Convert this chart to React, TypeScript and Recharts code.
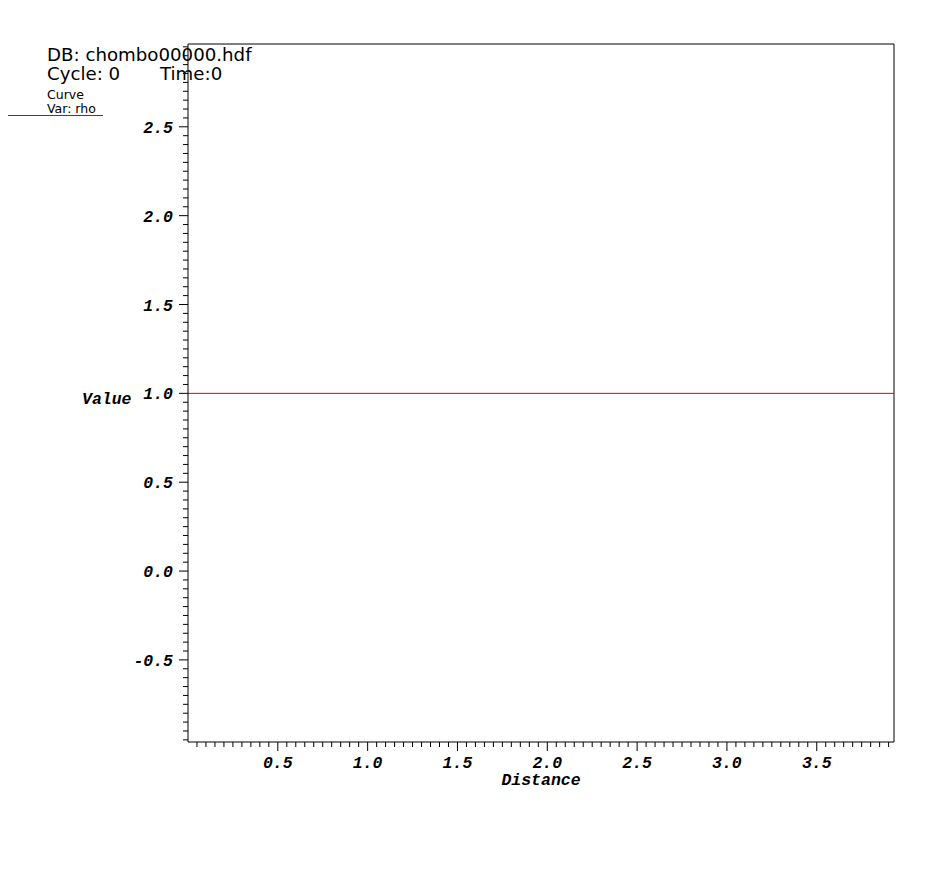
import React from 'react';
import { LineChart, Line, XAxis, YAxis, ReferenceLine } from 'recharts';

const distance = [0, 3.93];
const rho = [1.0, 1.0];
const xDomain: [number, number] = [0, 3.93];
const yDomain: [number, number] = [-0.962, 2.966];
const xTickHundredths = Array.from({ length: 78 }, (_, i) => 5 + i * 5); // 0.05 .. 3.90
const yTickHundredths = Array.from({ length: 79 }, (_, i) => -95 + i * 5); // -0.95 .. 2.95
const xTicks = xTickHundredths.map((v) => v / 100);
const yTicks = yTickHundredths.map((v) => v / 100);
const headerLines = ['DB: chombo00000.hdf', 'Cycle: 0', 'Time:0'];
const legendLines = ['Curve', 'Var: rho'];
const xLabel = 'Distance';
const yLabel = 'Value';

const data = distance.map((d, i) => ({ distance: d, rho: rho[i] }));

const tickFont = {
  fontFamily: '"Liberation Mono", "Courier New", monospace',
  fontWeight: 'bold' as const,
  fontStyle: 'italic' as const,
  fontSize: 16.5,
  fill: '#000',
};

const isMajor = (v: number) => Math.abs(v * 2 - Math.round(v * 2)) < 1e-6;

const XTick = (props: any) => {
  const { x, y, payload } = props;
  const v = payload.value as number;
  const major = isMajor(v);
  return (
    <g>
      <line x1={x} x2={x} y1={y} y2={y + (major ? 9 : 5)} stroke="#000" strokeWidth={1} />
      {major && (
        <text x={x} y={y + 25.5} textAnchor="middle" {...tickFont}>
          {v.toFixed(1)}
        </text>
      )}
    </g>
  );
};

const YTick = (props: any) => {
  const { x, y, payload } = props;
  const v = payload.value as number;
  const major = isMajor(v);
  return (
    <g>
      <line x1={x - (major ? 9 : 5)} x2={x} y1={y} y2={y} stroke="#000" strokeWidth={1} />
      {major && (
        <text x={x - 15} y={y + 6} textAnchor="end" {...tickFont}>
          {v.toFixed(1)}
        </text>
      )}
    </g>
  );
};

export default function App() {
  return (
    <div style={{ position: 'relative', width: 934, height: 858 }}>
      <LineChart
        width={934}
        height={858}
        data={data}
        margin={{ top: 36, right: 48, left: 0, bottom: 64 }}
      >
        <XAxis
          dataKey="distance"
          type="number"
          domain={xDomain}
          ticks={xTicks}
          allowDataOverflow
          height={60}
          tickSize={0}
          tickMargin={0}
          tickLine={false}
          tick={<XTick />}
          interval={0}
          axisLine={{ stroke: '#000', strokeWidth: 1 }}
        />
        <YAxis
          type="number"
          domain={yDomain}
          ticks={yTicks}
          allowDataOverflow
          width={180}
          tickSize={0}
          tickMargin={0}
          tickLine={false}
          tick={<YTick />}
          interval={0}
          axisLine={{ stroke: '#000', strokeWidth: 1 }}
        />
        <ReferenceLine y={yDomain[1]} stroke="#000" strokeWidth={1} />
        <ReferenceLine x={xDomain[1]} stroke="#000" strokeWidth={1} />
        <Line
          dataKey="rho"
          stroke="#e00000"
          strokeWidth={1}
          dot={false}
          isAnimationActive={false}
        />
      </LineChart>
      <svg
        width={942}
        height={874}
        style={{ position: 'absolute', left: -8, top: -8, pointerEvents: 'none', overflow: 'visible' }}
      >
        <g fontFamily='"DejaVu Sans", sans-serif' fill="#000">
          <text x={47} y={61} fontSize={18.2}>{headerLines[0]}</text>
          <text x={47} y={79.5} fontSize={18.2}>{headerLines[1]}</text>
          <text x={160} y={79.5} fontSize={18.2}>{headerLines[2]}</text>
          <text x={47} y={99} fontSize={12.5}>{legendLines[0]}</text>
          <text x={47} y={112.5} fontSize={12.5}>{legendLines[1]}</text>
        </g>
        <line x1={4} x2={103} y1={115.5} y2={115.5} stroke="#e00000" strokeWidth={1} />
        <text x={82} y={404} {...tickFont}>{yLabel}</text>
        <text x={541} y={785} textAnchor="middle" {...tickFont}>{xLabel}</text>
      </svg>
    </div>
  );
}
